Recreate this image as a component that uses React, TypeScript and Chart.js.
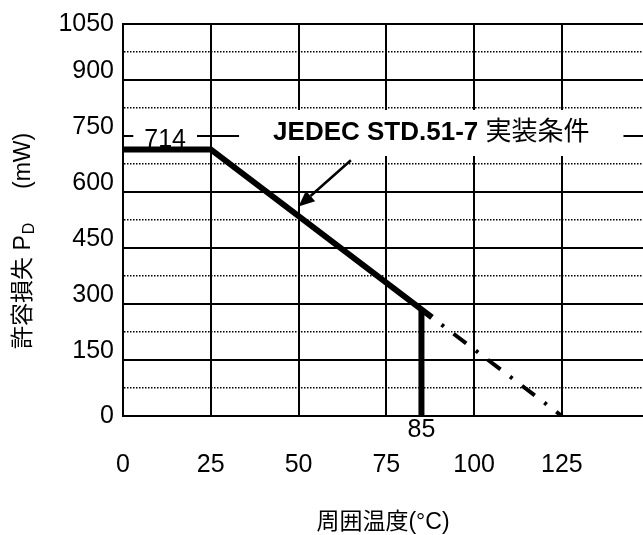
import { useEffect, useRef } from "react";
import { Chart, registerables } from "chart.js";

Chart.register(...registerables);

const FONT = "'Liberation Sans', Arial, 'Noto Sans CJK JP', sans-serif";

// Axis ranges and tick values
const xTicks = [0, 25, 50, 75, 100, 125];
const xMax = 148.1;
const yMax = 1050;
const yStep = 75; // grid line every 75 mW (dotted)
const yLabelStep = 150; // labelled, solid grid line every 150 mW
const yEndTicks = [0, 1050]; // end labels, centred on the frame lines

// Derating curve: ambient temperature (°C) → allowable power (mW)
const ratedTemp = [0, 25, 88];
const ratedPower = [714, 714, 264];
const limitTemp = [85, 85];
const limitPower = [285.6, 0];
const extTemp = [88, 125];
const extPower = [264, 0];

// Annotation texts and their anchors in data units
const ratedLabel = "714";
const ratedLabelAt = [12, 750];
const limitLabel = "85";
const conditionBold = "JEDEC STD.51-7 ";
const conditionRest = "実装条件";
const conditionAt = [87.8, 750];
const arrowFrom = [64.9, 685];
const arrowTo = [50, 561];
const xTitle = "周囲温度(°C)";
const yTitleMain = "許容損失 P";
const yTitleSub = "D";
const yTitleUnit = "(mW)";

const TICK_SIZE = 25;
const TICK_PAD = 9;

const toPoints = (xs: number[], ys: number[]) => xs.map((x, i) => ({ x, y: ys[i] }));

const decorations = {
  id: "decorations",
  beforeDatasetsDraw(chart: any) {
    const { ctx } = chart;
    const xs = chart.scales.x;
    const ys = chart.scales.y;
    ctx.save();

    // "714" label sitting on the 750 grid line
    ctx.font = `25px ${FONT}`;
    const lx = xs.getPixelForValue(ratedLabelAt[0]);
    const ly = ys.getPixelForValue(ratedLabelAt[1]);
    const lw = ctx.measureText(ratedLabel).width;
    ctx.fillStyle = "#fff";
    ctx.fillRect(lx - lw / 2 - 11, ly - 12, lw + 22, 24);
    ctx.fillStyle = "#000";
    ctx.textAlign = "center";
    ctx.textBaseline = "alphabetic";
    ctx.fillText(ratedLabel, lx, ly + 11);

    // mounting condition note
    const cx = xs.getPixelForValue(conditionAt[0]);
    const cy = ys.getPixelForValue(conditionAt[1]);
    ctx.font = `bold 26px ${FONT}`;
    const bw = ctx.measureText(conditionBold).width;
    ctx.font = `26px ${FONT}`;
    const rw = ctx.measureText(conditionRest).width;
    const tw = bw + rw;
    ctx.fillStyle = "#fff";
    ctx.fillRect(cx - tw / 2 - 34, cy - 26, tw + 68, 46);
    ctx.fillStyle = "#000";
    ctx.textAlign = "left";
    ctx.font = `bold 26px ${FONT}`;
    ctx.fillText(conditionBold, cx - tw / 2, cy + 4);
    ctx.font = `26px ${FONT}`;
    ctx.fillText(conditionRest, cx - tw / 2 + bw, cy + 4);
    ctx.restore();
  },
  afterDatasetsDraw(chart: any) {
    const { ctx, chartArea } = chart;
    const xs = chart.scales.x;
    const ys = chart.scales.y;
    ctx.save();

    // arrow pointing at the curve
    const x0 = xs.getPixelForValue(arrowFrom[0]);
    const y0 = ys.getPixelForValue(arrowFrom[1]);
    const x1 = xs.getPixelForValue(arrowTo[0]);
    const y1 = ys.getPixelForValue(arrowTo[1]);
    const ang = Math.atan2(y1 - y0, x1 - x0);
    const head = 16;
    const half = 7;
    const bx = x1 - head * Math.cos(ang);
    const by = y1 - head * Math.sin(ang);
    ctx.strokeStyle = "#000";
    ctx.fillStyle = "#000";
    ctx.lineWidth = 2.5;
    ctx.beginPath();
    ctx.moveTo(x0, y0);
    ctx.lineTo(bx, by);
    ctx.stroke();
    ctx.beginPath();
    ctx.moveTo(x1, y1);
    ctx.lineTo(bx + half * Math.sin(ang), by - half * Math.cos(ang));
    ctx.lineTo(bx - half * Math.sin(ang), by + half * Math.cos(ang));
    ctx.closePath();
    ctx.fill();

    // end labels of the y axis, centred on the frame lines
    ctx.font = `${TICK_SIZE}px ${FONT}`;
    ctx.textAlign = "right";
    ctx.textBaseline = "middle";
    for (const v of yEndTicks) {
      ctx.fillText(String(v), chartArea.left - TICK_PAD, ys.getPixelForValue(v));
    }

    // cut-off temperature label under the axis
    ctx.textAlign = "center";
    ctx.fillText(limitLabel, xs.getPixelForValue(limitTemp[0]), ys.getPixelForValue(0) + 14);

    // x axis title
    ctx.font = `23px ${FONT}`;
    ctx.fillText(xTitle, (chartArea.left + chartArea.right) / 2, 523);

    // y axis title, rotated, with subscript D
    ctx.translate(24, 349);
    ctx.rotate(-Math.PI / 2);
    ctx.textAlign = "left";
    ctx.textBaseline = "middle";
    ctx.font = `23px ${FONT}`;
    ctx.fillText(yTitleMain, 0, 0);
    const mw = ctx.measureText(yTitleMain).width;
    ctx.font = `16px ${FONT}`;
    ctx.fillText(yTitleSub, mw + 1, 6);
    ctx.font = `23px ${FONT}`;
    ctx.fillText(yTitleUnit, 160, 0);
    ctx.restore();
  },
};

export default function App() {
  const canvasRef = useRef<HTMLCanvasElement | null>(null);

  useEffect(() => {
    const canvas = canvasRef.current;
    if (!canvas) return;
    const tickFont = { family: FONT, size: TICK_SIZE };
    const chart = new Chart(canvas, {
      type: "line",
      data: {
        datasets: [
          {
            data: toPoints(ratedTemp, ratedPower),
            borderColor: "#000",
            borderWidth: 6,
            pointRadius: 0,
            borderJoinStyle: "miter",
            borderCapStyle: "butt",
            fill: false,
          },
          {
            data: toPoints(limitTemp, limitPower),
            borderColor: "#000",
            borderWidth: 6,
            pointRadius: 0,
            borderCapStyle: "butt",
            fill: false,
          },
          {
            data: toPoints(extTemp, extPower),
            borderColor: "#000",
            borderWidth: 4,
            borderDash: [16, 12, 3, 12],
            borderDashOffset: 16,
            pointRadius: 0,
            borderCapStyle: "butt",
            fill: false,
          },
        ],
      },
      options: {
        animation: false,
        responsive: false,
        layout: { padding: { top: 21, left: 0, right: 0, bottom: 0 } },
        plugins: { legend: { display: false }, tooltip: { enabled: false } },
        scales: {
          x: {
            type: "linear",
            min: 0,
            max: xMax,
            afterBuildTicks: (s: any) => {
              s.ticks = xTicks.map((v) => ({ value: v }));
            },
            afterFit: (s: any) => {
              s.height = 119;
            },
            grid: { color: "#000", lineWidth: 2, drawTicks: false },
            border: { color: "#000", width: 2 },
            ticks: { color: "#000", font: tickFont, padding: 34, maxRotation: 0, autoSkip: false },
          },
          // grid lines + inner labels (sitting just above their lines)
          y: {
            type: "linear",
            min: 0,
            max: yMax,
            afterFit: (s: any) => {
              s.width = 123;
            },
            grid: {
              color: "#000",
              lineWidth: (c: any) => (c.tick && c.tick.value % yLabelStep !== 0 ? 1.5 : 2),
              drawTicks: false,
            },
            border: {
              color: "#000",
              width: 2,
              dash: (c: any) => (c.tick && c.tick.value % yLabelStep !== 0 ? [1.5, 1.5] : []),
            },
            ticks: {
              color: "#000",
              font: tickFont,
              stepSize: yStep,
              autoSkip: false,
              padding: TICK_PAD,
              labelOffset: -9,
              callback: (v: any) =>
                Number(v) % yLabelStep === 0 && !yEndTicks.includes(Number(v)) ? String(v) : "",
            },
          },
        },
      },
      plugins: [decorations],
    } as any);
    return () => chart.destroy();
  }, []);

  return (
    <canvas
      ref={canvasRef}
      width={643}
      height={535}
      style={{ position: "absolute", left: 0, top: 0 }}
    />
  );
}
